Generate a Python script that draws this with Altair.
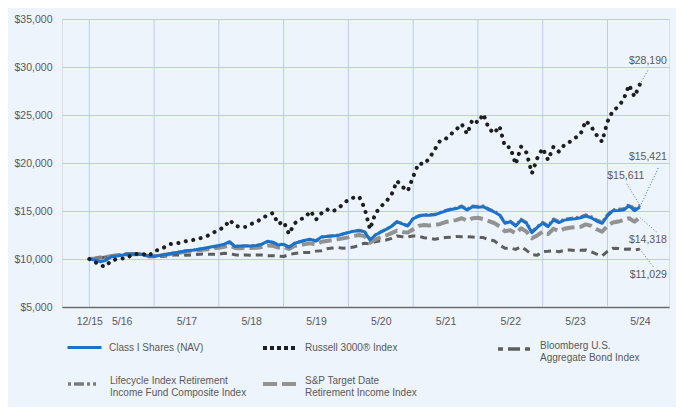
import altair as alt
import pandas as pd

# month index: 0 = start of chart (12/15), monthly to 5/24 (102)
months = list(range(103))

class_i = [10000, 9900, 9720, 9850, 10200, 10300, 10400, 10500, 10520, 10500,
           10450, 10300, 10250, 10350, 10450, 10550, 10650, 10750, 10850, 10900,
           11000, 11100, 11200, 11300, 11400, 11550, 11800, 11300, 11350, 11350,
           11350, 11400, 11550, 11850, 11750, 11460, 11530, 11220, 11630, 11800,
           11950, 12050, 11880, 12300, 12350, 12400, 12450, 12600, 12750, 12900,
           12950, 12850, 11980, 12500, 12800, 13090, 13400, 13880, 13650, 13440,
           14200, 14450, 14580, 14550, 14600, 14800, 15000, 15150, 15250, 15450,
           15100, 15450, 15400, 15450, 15150, 14900, 14580, 13720, 13880, 13440,
           14060, 13720, 12740, 13300, 13720, 13370, 14060, 13800, 14050, 14130,
           14200, 14300, 14480, 14300, 13950, 13720, 14500, 15030, 15050, 15100,
           15550, 15030, 15421]

russell = [10000, 9700, 9350, 9200, 9820, 9970, 10050, 10100, 10500, 10520,
           10520, 10310, 10800, 11000, 11250, 11550, 11620, 11700, 11870, 11950,
           12100, 12220, 12450, 12750, 13050, 13300, 14060, 13500, 13300, 13350,
           13650, 13850, 14250, 14550, 14790, 13650, 13900, 12600, 13700, 14100,
           14340, 15000, 14100, 14760, 15170, 14930, 15240, 15700, 16200, 16400,
           16490, 15300, 13090, 14760, 15450, 16000, 16700, 18130, 17530, 17080,
           18570, 19970, 19860, 20490, 21400, 22330, 22500, 23000, 23500, 24060,
           23020, 24550, 24200, 25100, 23610, 23090, 23850, 21700, 21630, 19860,
           21700, 21080, 18920, 20500, 21530, 20310, 21700, 21180, 21880, 22200,
           22600, 23000, 24400, 23780, 22900, 22220, 24300, 25450, 25860, 26630,
           28130, 26910, 28190]

bloomberg = [10000, 9980, 10120, 10200, 10280, 10320, 10500, 10560, 10550, 10540,
             10480, 10230, 10250, 10270, 10290, 10360, 10440, 10420, 10400, 10430,
             10480, 10520, 10490, 10490, 10500, 10600, 10550, 10450, 10380, 10420,
             10380, 10410, 10410, 10350, 10350, 10310, 10260, 10460, 10580, 10640,
             10690, 10690, 10820, 10860, 11060, 11140, 11200, 11110, 11180, 11240,
             11450, 11650, 11580, 11800, 11900, 11980, 12150, 12400, 12320, 12300,
             12400, 12380, 12220, 12150, 12050, 12150, 12250, 12270, 12350, 12330,
             12320, 12290, 12250, 12230, 12000, 11910, 11460, 11110, 11150, 11000,
             11280, 10900, 10450, 10380, 10760, 10800, 10870, 10760, 10900, 10940,
             10870, 10900, 10940, 10750, 10500, 10310, 10800, 11110, 11100, 11010,
             11050, 10950, 11029]

lifecycle = [10000, 10050, 10120, 10150, 10300, 10380, 10450, 10520, 10560, 10540,
             10480, 10340, 10320, 10400, 10480, 10570, 10670, 10760, 10850, 10900,
             10990, 11080, 11170, 11260, 11360, 11500, 11700, 11350, 11350, 11370,
             11380, 11420, 11550, 11800, 11720, 11480, 11550, 11250, 11640, 11800,
             11950, 12050, 11900, 12300, 12370, 12420, 12480, 12620, 12780, 12930,
             13000, 12880, 12000, 12520, 12820, 13100, 13420, 13900, 13680, 13480,
             14250, 14500, 14620, 14600, 14650, 14850, 15060, 15200, 15320, 15520,
             15180, 15530, 15480, 15530, 15230, 14980, 14660, 13800, 13950, 13520,
             14150, 13800, 12850, 13400, 13820, 13480, 14170, 13900, 14150, 14230,
             14300, 14400, 14600, 14420, 14070, 13850, 14620, 15150, 15180, 15230,
             15700, 15200, 15611]

sp_target = [10000, 10050, 10150, 10200, 10300, 10380, 10420, 10500, 10520, 10500,
             10450, 10300, 10280, 10380, 10450, 10520, 10600, 10680, 10750, 10800,
             10880, 10950, 11020, 11100, 11180, 11280, 11400, 11150, 11130, 11150,
             11150, 11180, 11250, 11400, 11380, 11200, 11250, 11050, 11350, 11450,
             11550, 11630, 11500, 11800, 11880, 11950, 12050, 12150, 12250, 12400,
             12500, 12380, 11700, 12050, 12250, 12450, 12700, 12950, 12800, 12750,
             13100, 13450, 13540, 13500, 13550, 13650, 13850, 13950, 14050, 14250,
             13990, 14250, 14300, 14150, 13950, 13750, 13400, 12900, 13000, 12670,
             13200, 12850, 12150, 12450, 12850, 12600, 13150, 12900, 13150, 13260,
             13300, 13350, 13600, 13450, 13100, 12840, 13450, 13800, 13900, 14050,
             14250, 13890, 14318]

series_names = ["Class I Shares (NAV)",
                "Russell 3000® Index",
                "Bloomberg U.S. Aggregate Bond Index",
                "Lifecycle Index Retirement Income Fund Composite Index",
                "S&P Target Date Retirement Income Index"]
legend_lines = [["Class I Shares (NAV)"],
                ["Russell 3000® Index"],
                ["Bloomberg U.S.", "Aggregate Bond Index"],
                ["Lifecycle Index Retirement", "Income Fund Composite Index"],
                ["S&P Target Date", "Retirement Income Index"]]
series_data = [class_i, russell, bloomberg, lifecycle, sp_target]

grid_months = [0, 12, 24, 36, 48, 60, 72, 84, 96]
tick_months = [0, 6, 18, 30, 42, 54, 66, 78, 90, 102]
tick_labels = ["12/15", "5/16", "5/17", "5/18", "5/19", "5/20", "5/21", "5/22", "5/23", "5/24"]
y_ticks = [5000, 10000, 15000, 20000, 25000, 30000, 35000]

# ---- styles ----
FONT = "Liberation Sans"
BG = "#eef4fb"
GRID = "#b7cdef"
TXT = "#595959"
colors = ["#1b72cc", "#1e1e1e", "#5e5e5e", "#7b7b7b", "#929292"]
dashes = [None, [0.1, 7.5], [7, 5], [2, 3, 7, 3], [13, 5]]
caps = ["butt", "round", "butt", "butt", "butt"]
widths = [3, 4, 3, 3, 4]
legend_dashes = [[1, 0], [4, 3], [5, 5, 12, 5], [3, 3, 10, 3, 3, 3, 3, 20], [14, 5]]
legend_widths = [3, 4, 3.5, 3.5, 4]
# legend placement (x offset from plot left, y offset from plot top, baseline)
legend_pos = [(4, 310, "middle"), (199, 310, "middle"), (434, 311, "alphabetic"),
              (4, 346, "alphabetic"), (199, 346, "alphabetic")]

x_scale = alt.Scale(domain=[-5.06, 107.4], nice=False, zero=False)
y_scale = alt.Scale(domain=[5000, 35000], nice=False, zero=False)

x_enc = alt.X("month:Q", scale=x_scale,
              axis=alt.Axis(values=tick_months, grid=False, ticks=False, title=None,
                            labelExpr="[" + ",".join("'" + t + "'" for t in tick_labels) + "][indexof([" +
                            ",".join(str(v) for v in tick_months) + "], datum.value)]",
                            labelPadding=9, domainColor="#6b6b6b", domainWidth=1.5,
                            labelFontSize=10.5, labelColor=TXT, labelFont=FONT, labelFlush=False))
y_enc = alt.Y("value:Q", scale=y_scale,
              axis=alt.Axis(values=y_ticks, format="$,.0f", grid=True, gridColor=GRID,
                            gridWidth=1, domain=False, ticks=False, title=None,
                            labelPadding=10, labelFontSize=10.5, labelColor=TXT, labelFont=FONT))

vgrid = alt.Chart(pd.DataFrame({"month": grid_months})).mark_rule(
    color=GRID, strokeWidth=1).encode(x=alt.X("month:Q", scale=x_scale))

draw_order = [2, 4, 3, 0, 1]
line_layers = []
for i in draw_order:
    sub = pd.DataFrame({"month": months, "value": series_data[i], "series": series_names[i]})
    lines = legend_lines[i]
    if len(lines) > 1:
        lab = "[" + ", ".join("'" + l + "'" for l in lines) + "]"
    else:
        lab = "'" + lines[0] + "'"
    lx, ly, lb = legend_pos[i]
    leg = alt.Legend(title=None, orient="none", legendX=lx, legendY=ly,
                     symbolType="stroke", symbolSize=1156,
                     symbolStrokeWidth=legend_widths[i], symbolDash=legend_dashes[i],
                     labelExpr=lab, labelFontSize=10, labelColor=TXT, labelFont=FONT,
                     labelOffset=6, labelBaseline=lb, padding=0, labelLimit=400)
    mk = dict(strokeWidth=widths[i], strokeJoin="round", strokeCap=caps[i])
    if dashes[i] is not None:
        mk["strokeDash"] = dashes[i]
    line_layers.append(
        alt.Chart(sub).mark_line(**mk).encode(
            x=x_enc, y=y_enc,
            color=alt.Color("series:N", scale=alt.Scale(domain=[series_names[i]], range=[colors[i]]),
                            legend=leg))
    )

# end labels: (series index, text dx, dy, align, leader dk, dv, leader colour)
end_specs = [
    (1, 27, -23, "right", 1.6, 1560, "#6b6b6b"),
    (0, 27, -50, "right", 3.5, 4170, "#1b72cc"),
    (3, -14, -29, "center", -2.5, 2290, "#6b6b6b"),
    (4, 27, 22, "right", 3.2, -1560, "#6b6b6b"),
    (2, 27, 26, "right", 2.7, -1980, "#6b6b6b"),
]
label_layers = []
for i, dx, dy, align, dk, dv, lc in end_specs:
    end_df = pd.DataFrame({"month": [months[-1]], "value": [series_data[i][-1]]})
    base = alt.Chart(end_df)
    label_layers.append(
        base.transform_calculate(m2=f"datum.month + {dk}", v2=f"datum.value + {dv}")
        .mark_rule(color=lc, strokeWidth=1, strokeDash=[1, 2])
        .encode(x=alt.X("month:Q", scale=x_scale), y=alt.Y("value:Q", scale=y_scale),
                x2="m2:Q", y2="v2:Q")
    )
    label_layers.append(
        base.mark_text(dx=dx, dy=dy, align=align, baseline="middle", fontSize=10.5,
                       font=FONT, color=TXT)
        .encode(x=alt.X("month:Q", scale=x_scale), y=alt.Y("value:Q", scale=y_scale),
                text=alt.Text("value:Q", format="$,.0f"))
    )

chart = alt.layer(vgrid, *line_layers, *label_layers).resolve_scale(
    color="independent").resolve_legend(color="independent").properties(
    width=607, height=288,
    autosize=alt.AutoSizeParams(type="none"),
    padding={"left": 54, "top": 11, "right": 7, "bottom": 100},
    background=BG,
).configure_view(stroke=GRID, strokeWidth=1).configure(font=FONT)

chart.save("out.html", embed_options={"renderer": "svg", "actions": False})
